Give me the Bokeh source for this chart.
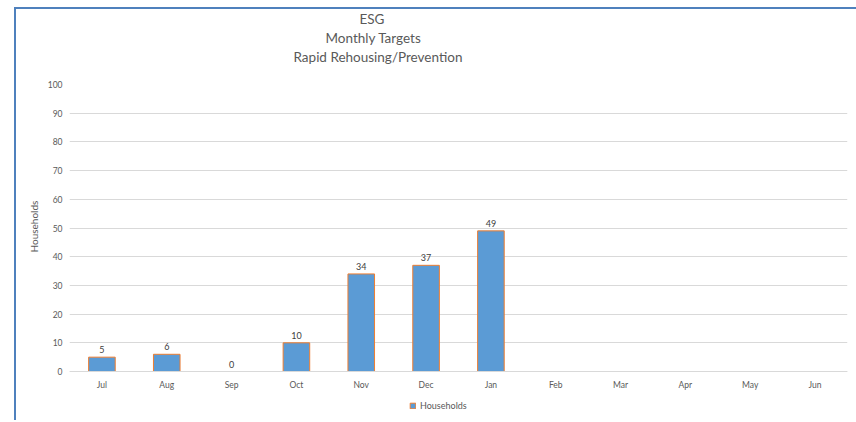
from bokeh.plotting import figure
from bokeh.models import (ColumnDataSource, FactorRange, Range1d, Legend,
                          LegendItem, FixedTicker, Title)
from bokeh.embed import file_html
from bokeh.resources import INLINE
from bokeh.core.properties import value

# ---- data ----
months = ["Jul", "Aug", "Sep", "Oct", "Nov", "Dec", "Jan",
          "Feb", "Mar", "Apr", "May", "Jun"]
reported_months = ["Jul", "Aug", "Sep", "Oct", "Nov", "Dec", "Jan"]
households = [5, 6, 0, 10, 34, 37, 49]
title_lines = ["ESG", "Monthly Targets", "Rapid Rehousing/Prevention"]
title_offsets = [290, 256, 224]
y_ticks = [0, 10, 20, 30, 40, 50, 60, 70, 80, 90, 100]
series_name = "Households"
y_axis_title = "Households"

FONT = "Lato"
TXT = "#595959"
GRID = "#D9D9D9"

# frame extends below the value axis so the legend fits under the month labels
p = figure(frame_width=778, frame_height=336,
           x_range=FactorRange(factors=months, range_padding=0),
           y_range=Range1d(-17.07, 100),
           output_backend="svg", toolbar_location=None,
           title_location=None,
           min_border_left=53, min_border_right=9,
           min_border_top=0, min_border_bottom=0)
p.margin = (7, 0, 0, 14)
p.styles = {"border-top": "2px solid #4F81BD",
            "border-left": "2px solid #4F81BD"}
p.outline_line_color = None
p.background_fill_color = "white"
p.border_fill_color = "white"

p.xgrid.visible = False
p.ygrid.ticker = FixedTicker(ticks=y_ticks)
p.ygrid.grid_line_color = GRID
p.ygrid.grid_line_width = 1

# y axis
p.yaxis.ticker = FixedTicker(ticks=y_ticks)
p.yaxis.axis_line_color = None
p.yaxis.major_tick_line_color = None
p.yaxis.minor_tick_line_color = None
p.yaxis.major_tick_out = 0
p.yaxis.major_tick_in = 0
p.yaxis.major_label_standoff = 7
p.yaxis.major_label_text_font = FONT
p.yaxis.major_label_text_font_size = "8.5px"
p.yaxis.major_label_text_color = TXT

# y axis title, centred on the 0..100 value span
p.add_layout(Title(text=y_axis_title, align="left", offset=168,
                   text_font=FONT, text_font_size="10px",
                   text_font_style="normal", text_color=TXT,
                   vertical_align="middle", standoff=8), "left")

# x axis drawn at value 0
p.xaxis.fixed_location = 0
p.xaxis.axis_line_color = GRID
p.xaxis.major_tick_line_color = None
p.xaxis.minor_tick_line_color = None
p.xaxis.major_tick_out = 0
p.xaxis.major_tick_in = 0
p.xaxis.major_label_standoff = 8
p.xaxis.major_label_text_font = FONT
p.xaxis.major_label_text_font_size = "8.5px"
p.xaxis.major_label_text_color = TXT

src = ColumnDataSource(dict(
    month=reported_months,
    households=households,
    label=[str(v) for v in households],
    edge_alpha=[1.0 if v > 0 else 0.0 for v in households],
))

bars = p.vbar(x="month", top="households", width=0.41, source=src,
              fill_color="#5B9BD5", line_color="#ED7D31", line_width=1,
              line_alpha="edge_alpha")

p.text(x="month", y="households", text="label", source=src,
       text_align="center", text_baseline="bottom", y_offset=-4,
       text_font=value(FONT), text_font_size="9px", text_color="#404040")

# titles: the last one added sits outermost (top)
title_pad = [dict(left=0, right=0, top=1, bottom=0),
             dict(left=0, right=0, top=0, bottom=0),
             dict(left=0, right=0, top=0, bottom=17)]
for line, off, pad in reversed(list(zip(title_lines, title_offsets, title_pad))):
    p.add_layout(Title(text=line, align="left", offset=off,
                       text_font=FONT, text_font_size="13.5px",
                       text_font_style="normal", text_color=TXT,
                       vertical_align="top", standoff=1, padding=pad), "above")

legend = Legend(items=[LegendItem(label=series_name, renderers=[bars], index=0)],
                location=(340, 9), orientation="horizontal",
                padding=0, margin=0, spacing=0,
                glyph_width=7, glyph_height=7, label_height=8,
                label_standoff=4,
                label_text_font=FONT, label_text_font_size="9px",
                label_text_color=TXT,
                border_line_color=None, background_fill_alpha=0)
p.add_layout(legend)

open("out.html", "w").write(file_html(p, INLINE))
